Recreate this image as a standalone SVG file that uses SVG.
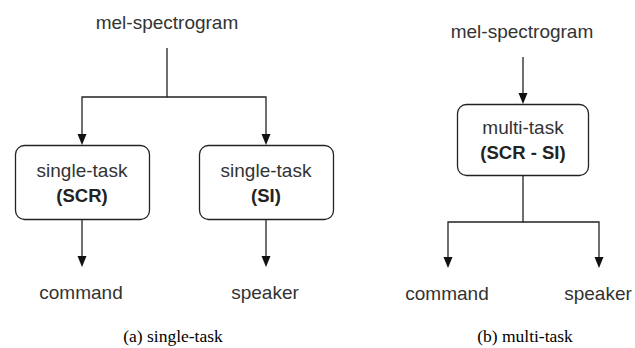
<svg xmlns="http://www.w3.org/2000/svg" width="635" height="348" viewBox="0 0 635 348">
<style>
.t{font-family:"Liberation Sans",Arial,sans-serif;font-size:19px;fill:#333;text-anchor:middle}
.b{font-weight:bold;fill:#222;font-size:18.5px}
.cap{font-family:"Liberation Serif","Times New Roman",serif;font-size:17.5px;fill:#000;text-anchor:middle}
.box{fill:#fff;stroke:#222;stroke-width:1.3}
.ln{fill:none;stroke:#222;stroke-width:1.3}
.ah{fill:#111}
</style>
<rect width="635" height="348" fill="#fff"/>
<g id="connectors">
<path class="ln" d="M167,48 V97 H82 V140"/>
<path class="ln" d="M167,97 H266 V140"/>
<path class="ln" d="M82,219 V262"/>
<path class="ln" d="M266,219 V262"/>
<path class="ln" d="M523,57 V99"/>
<path class="ln" d="M523,175 V222 H448 V263"/>
<path class="ln" d="M523,222 H599 V263"/>
<path class="ah" d="M77.5,134 H86.5 L82,145 Z"/>
<path class="ah" d="M261.5,134 H270.5 L266,145 Z"/>
<path class="ah" d="M77.5,256 H86.5 L82,267 Z"/>
<path class="ah" d="M261.5,256 H270.5 L266,267 Z"/>
<path class="ah" d="M518.5,93 H527.5 L523,104 Z"/>
<path class="ah" d="M443.5,257 H452.5 L448,268 Z"/>
<path class="ah" d="M594.5,257 H603.5 L599,268 Z"/>
</g>
<g id="mel-a"><text class="t" x="167" y="29">mel-spectrogram</text></g>
<g id="st-scr">
<rect class="box" x="15.5" y="145.5" width="134" height="74" rx="9"/>
<text class="t" x="82" y="177">single-task</text>
<text class="t b" x="82" y="202">(SCR)</text>
</g>
<g id="st-si">
<rect class="box" x="199.5" y="145.5" width="134" height="74" rx="9"/>
<text class="t" x="266" y="177">single-task</text>
<text class="t b" x="266" y="202">(SI)</text>
</g>
<g id="cmd-a"><text class="t" x="81" y="299">command</text></g>
<g id="spk-a"><text class="t" x="265" y="299">speaker</text></g>
<g id="mel-b"><text class="t" x="522" y="38">mel-spectrogram</text></g>
<g id="mt">
<rect class="box" x="457.5" y="104.5" width="131" height="71" rx="9"/>
<text class="t" x="523" y="134">multi-task</text>
<text class="t b" x="523" y="159">(SCR - SI)</text>
</g>
<g id="cmd-b"><text class="t" x="447" y="300">command</text></g>
<g id="spk-b"><text class="t" x="598" y="300">speaker</text></g>
<g id="captions">
<text class="cap" x="173" y="342">(a) single-task</text>
<text class="cap" x="525" y="342">(b) multi-task</text>
</g>
</svg>
